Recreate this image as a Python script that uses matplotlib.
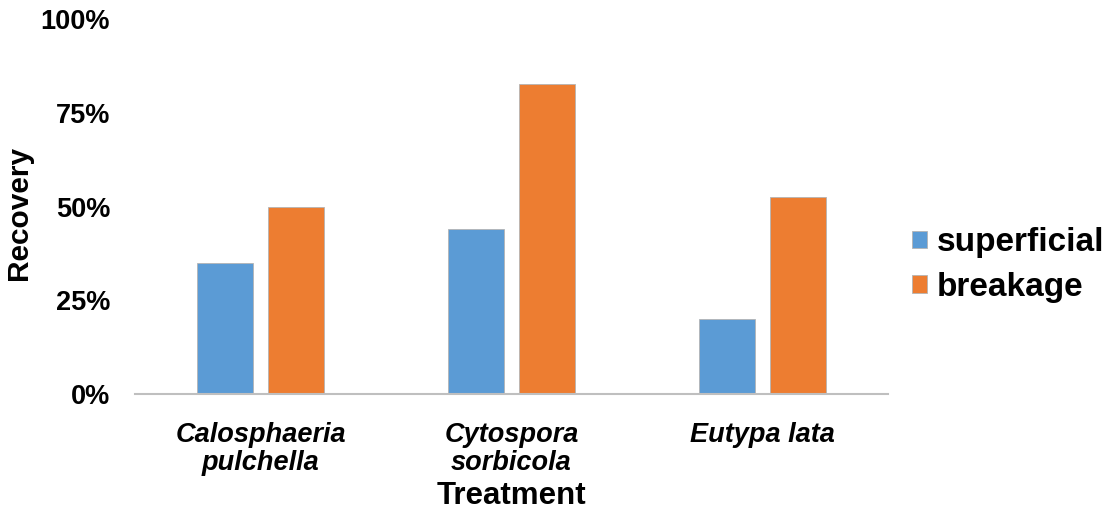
import numpy as np
import matplotlib.pyplot as plt

# recovery rate by treatment and wound type
treatments = ["Calosphaeria\npulchella", "Cytospora\nsorbicola", "Eutypa lata"]
superficial = [0.35, 0.44, 0.20]
breakage = [0.50, 0.827, 0.525]
yticks = [0, 0.25, 0.5, 0.75, 1.0]
ytick_labels = ["0%", "25%", "50%", "75%", "100%"]

blue = "#5B9BD5"
orange = "#ED7D31"

plt.rcParams['font.family'] = ['Liberation Sans', 'DejaVu Sans']
plt.rcParams['font.weight'] = 'bold'

fig = plt.figure(figsize=(11.03, 5.16), dpi=100)
ax = fig.add_axes([135/1103, 1-394/516, 753/1103, 375/516])

x = np.arange(len(treatments))
w = 0.223
ax.bar(x-0.141, superficial, w, color=blue, edgecolor="#b4b4b4", linewidth=0.6, label="superficial")
ax.bar(x+0.141, breakage, w, color=orange, edgecolor="#b4b4b4", linewidth=0.6, label="breakage")

ax.set_xlim(-0.5, 2.5)
ax.set_ylim(0, 1)
ax.set_yticks(yticks)
ax.set_yticklabels(ytick_labels, fontsize=19.5, fontweight='bold')
ax.set_xticks(x)
ax.set_xticklabels(treatments, fontsize=19.5, fontweight='bold', style='italic', linespacing=1.1)
ax.tick_params(axis='both', length=0)
ax.tick_params(axis='y', pad=18)
ax.tick_params(axis='x', pad=20)

for s in ['top', 'right', 'left']:
    ax.spines[s].set_visible(False)
ax.spines['bottom'].set_color('#bfbfbf')
ax.spines['bottom'].set_linewidth(1.5)

ax.set_xlabel("Treatment", fontsize=22.5, fontweight='bold')
ax.xaxis.set_label_coords(0.5, -0.232)
ax.set_ylabel("Recovery", fontsize=21.5, fontweight='bold')
ax.yaxis.set_label_coords(-0.136, 0.483)

fig.legend(loc='center left', bbox_to_anchor=(912/1103, 1-265/516), frameon=False,
           prop={'size': 24, 'weight': 'bold'}, handlelength=0.45, handleheight=0.45,
           handletextpad=0.3, labelspacing=0.4, borderaxespad=0, borderpad=0)

plt.savefig("out.png", dpi=100)
